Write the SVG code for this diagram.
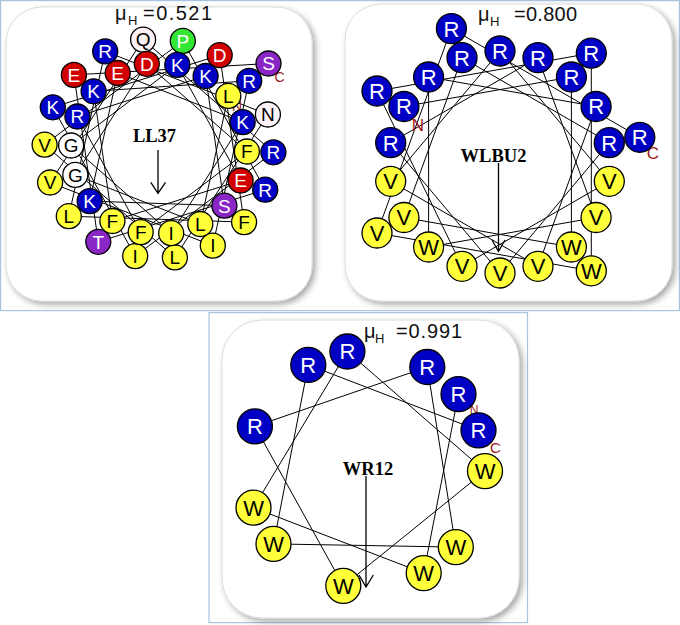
<svg xmlns="http://www.w3.org/2000/svg" width="680" height="625" viewBox="0 0 680 625">
<defs>
<filter id="sh" x="-10%" y="-10%" width="125%" height="125%">
<feGaussianBlur in="SourceAlpha" stdDeviation="3"/>
<feOffset dx="3" dy="3" result="o"/>
<feComponentTransfer><feFuncA type="linear" slope="0.35"/></feComponentTransfer>
<feMerge><feMergeNode/><feMergeNode in="SourceGraphic"/></feMerge>
</filter>
<style>
.frame{fill:none;stroke:#a9c3e3;stroke-width:1.2}
.panel{fill:#fff;stroke:#dcdcdc;stroke-width:1}
.wire{fill:none;stroke:#000;stroke-width:1;stroke-linejoin:miter}
.arrow{fill:none;stroke:#000;stroke-width:1.3}
circle{stroke:#000;stroke-width:1.3}
.y{fill:#ffff3a}
.b{fill:#0000c4}
.r{fill:#d20000}
.p{fill:#8a26c6}
.g{fill:#33e633}
.w{fill:#ffffff}
.k{fill:#fdf2f5}
text{font-family:"Liberation Sans",Arial,Helvetica,sans-serif;text-anchor:middle}
.tk{fill:#000}
.tw{fill:#fff}
.ll text{font-size:19px}
.wl text{font-size:22px}
.wr text{font-size:22px}
.term{fill:#9b1a1a;font-size:14px}
.name{font-family:"Liberation Serif","Times New Roman",serif;font-weight:bold;font-size:18.5px;fill:#000}
.mu{font-size:20px;fill:#111;text-anchor:start}
</style>
</defs>
<rect width="680" height="625" fill="#fff"/>
<rect class="frame" x="0.6" y="0.6" width="678.8" height="310"/>
<rect class="frame" x="209" y="312.6" width="318.5" height="310"/>

<g id="panels">
<rect class="panel" x="6" y="7" width="306" height="294" rx="36" filter="url(#sh)"/>
<rect class="panel" x="345" y="4" width="327" height="297" rx="36" filter="url(#sh)"/>
<rect class="panel" x="222" y="320" width="297" height="298" rx="40" filter="url(#sh)"/>
</g>

<g id="connectors">
<polyline class="wire" points="228.3,95.9 200.3,224.0 75.3,174.9 146.8,63.8 246.9,151.5 140.7,232.1 77.4,116.5 205.6,76.0 224.4,205.7 89.7,201.1 117.7,73.0 242.7,122.1 171.2,233.2 71.1,145.5 177.3,64.9 240.6,180.5 112.4,221.0 93.6,91.3 249.2,80.8 212.8,245.6 50.1,182.5 143.1,39.6 273.4,152.3 135.2,256.1 52.8,107.3 219.7,55.2 244.1,222.1 68.8,216.2 105.2,51.4 267.9,114.5 174.9,257.4 44.6,144.7 182.8,40.9 265.2,189.7 98.3,241.8 73.9,74.9 268.5,63.5"/>
<polyline class="wire" points="403.9,106.5 571.4,77.0 571.4,247.0 403.9,217.5 462.0,57.7 609.3,142.7 500,273 390.7,142.7 538.0,57.7 596.1,217.5 428.6,247.0 428.6,77.0 596.1,106.5 538.0,266.3 390.7,181.3 500,51 609.3,181.3 462.0,266.3 377.0,91.0 591.3,53.2 591.3,270.8 377.0,233.0 451.4,28.6 639.8,137.3"/>
<polyline class="wire" points="458.5,394.1 423.7,573.1 253.5,507.7 347.4,351.5 485.0,471.1 343.3,585.8 254.9,426.4 427.3,367.0 455.8,547.1 273.5,543.9 308.3,364.9 478.5,430.3"/>
<path class="arrow" d="M158,150 V193 M150.8,182.3 L158,193.3 L165.5,182.3"/>
<path class="arrow" d="M498.5,163 V251.5 M492,240 L498.5,251.5 L505,240"/>
<path class="arrow" d="M366,476 V587 M359,575 L366,587 L373.3,575"/>
</g>

<g id="titles">
<text class="mu" x="115" y="20">μ<tspan font-size="13" x="128" dy="5">H</tspan><tspan x="143" dy="-5" textLength="69" lengthAdjust="spacing">=0.521</tspan></text>
<text class="mu" x="478" y="21">μ<tspan font-size="13" x="490" dy="5">H</tspan><tspan x="514" dy="-5" textLength="63" lengthAdjust="spacing">=0.800</tspan></text>
<text class="mu" x="364" y="338">μ<tspan font-size="13" x="375" dy="5">H</tspan><tspan x="396" dy="-5" textLength="66" lengthAdjust="spacing">=0.991</tspan></text>
<text class="name" x="154.5" y="142">LL37</text>
<text class="name" x="493.5" y="162">WLBU2</text>
<text class="name" x="368" y="475">WR12</text>
</g>

<g id="termini">
<text class="term" x="237" y="111">N</text>
<text class="term" x="279.5" y="82">C</text>
<text class="term" x="418" y="131" style="font-size:17px">N</text>
<text class="term" x="653" y="159" style="font-size:17px">C</text>
<text class="term" x="474" y="414" style="font-size:12px">N</text>
<text class="term" x="495.5" y="453" style="font-size:15px">C</text>
</g>

<g id="LL37" class="ll">
<g id="ll37-37" transform="translate(268.5,63.5)"><circle class="p" r="12.5"/><text class="tw" y="6.8">S</text></g>
<g id="ll37-36" transform="translate(73.9,74.9)"><circle class="r" r="12.5"/><text class="tw" y="6.8">E</text></g>
<g id="ll37-35" transform="translate(98.3,241.8)"><circle class="p" r="12.5"/><text class="tw" y="6.8">T</text></g>
<g id="ll37-34" transform="translate(265.2,189.7)"><circle class="b" r="12.5"/><text class="tw" y="6.8">R</text></g>
<g id="ll37-33" transform="translate(182.8,40.9)"><circle class="g" r="12.5"/><text class="tw" y="6.8">P</text></g>
<g id="ll37-32" transform="translate(44.6,144.7)"><circle class="y" r="12.5"/><text class="tk" y="6.8">V</text></g>
<g id="ll37-31" transform="translate(174.9,257.4)"><circle class="y" r="12.5"/><text class="tk" y="6.8">L</text></g>
<g id="ll37-30" transform="translate(267.9,114.5)"><circle class="k" r="12.5"/><text class="tk" y="6.8">N</text></g>
<g id="ll37-29" transform="translate(105.2,51.4)"><circle class="b" r="12.5"/><text class="tw" y="6.8">R</text></g>
<g id="ll37-28" transform="translate(68.8,216.2)"><circle class="y" r="12.5"/><text class="tk" y="6.8">L</text></g>
<g id="ll37-27" transform="translate(244.1,222.1)"><circle class="y" r="12.5"/><text class="tk" y="6.8">F</text></g>
<g id="ll37-26" transform="translate(219.7,55.2)"><circle class="r" r="12.5"/><text class="tw" y="6.8">D</text></g>
<g id="ll37-25" transform="translate(52.8,107.3)"><circle class="b" r="12.5"/><text class="tw" y="6.8">K</text></g>
<g id="ll37-24" transform="translate(135.2,256.1)"><circle class="y" r="12.5"/><text class="tk" y="6.8">I</text></g>
<g id="ll37-23" transform="translate(273.4,152.3)"><circle class="b" r="12.5"/><text class="tw" y="6.8">R</text></g>
<g id="ll37-22" transform="translate(143.1,39.6)"><circle class="k" r="12.5"/><text class="tk" y="6.8">Q</text></g>
<g id="ll37-21" transform="translate(50.1,182.5)"><circle class="y" r="12.5"/><text class="tk" y="6.8">V</text></g>
<g id="ll37-20" transform="translate(212.8,245.6)"><circle class="y" r="12.5"/><text class="tk" y="6.8">I</text></g>
<g id="ll37-19" transform="translate(249.2,80.8)"><circle class="b" r="12.5"/><text class="tw" y="6.8">R</text></g>
<g id="ll37-18" transform="translate(93.6,91.3)"><circle class="b" r="12.5"/><text class="tw" y="6.8">K</text></g>
<g id="ll37-17" transform="translate(112.4,221.0)"><circle class="y" r="12.5"/><text class="tk" y="6.8">F</text></g>
<g id="ll37-16" transform="translate(240.6,180.5)"><circle class="r" r="12.5"/><text class="tw" y="6.8">E</text></g>
<g id="ll37-15" transform="translate(177.3,64.9)"><circle class="b" r="12.5"/><text class="tw" y="6.8">K</text></g>
<g id="ll37-14" transform="translate(71.1,145.5)"><circle class="w" r="12.5"/><text class="tk" y="6.8">G</text></g>
<g id="ll37-13" transform="translate(171.2,233.2)"><circle class="y" r="12.5"/><text class="tk" y="6.8">I</text></g>
<g id="ll37-12" transform="translate(242.7,122.1)"><circle class="b" r="12.5"/><text class="tw" y="6.8">K</text></g>
<g id="ll37-11" transform="translate(117.7,73.0)"><circle class="r" r="12.5"/><text class="tw" y="6.8">E</text></g>
<g id="ll37-10" transform="translate(89.7,201.1)"><circle class="b" r="12.5"/><text class="tw" y="6.8">K</text></g>
<g id="ll37-9" transform="translate(224.4,205.7)"><circle class="p" r="12.5"/><text class="tw" y="6.8">S</text></g>
<g id="ll37-8" transform="translate(205.6,76.0)"><circle class="b" r="12.5"/><text class="tw" y="6.8">K</text></g>
<g id="ll37-7" transform="translate(77.4,116.5)"><circle class="b" r="12.5"/><text class="tw" y="6.8">R</text></g>
<g id="ll37-6" transform="translate(140.7,232.1)"><circle class="y" r="12.5"/><text class="tk" y="6.8">F</text></g>
<g id="ll37-5" transform="translate(246.9,151.5)"><circle class="y" r="12.5"/><text class="tk" y="6.8">F</text></g>
<g id="ll37-4" transform="translate(146.8,63.8)"><circle class="r" r="12.5"/><text class="tw" y="6.8">D</text></g>
<g id="ll37-3" transform="translate(75.3,174.9)"><circle class="w" r="12.5"/><text class="tk" y="6.8">G</text></g>
<g id="ll37-2" transform="translate(200.3,224.0)"><circle class="y" r="12.5"/><text class="tk" y="6.8">L</text></g>
<g id="ll37-1" transform="translate(228.3,95.9)"><circle class="y" r="12.5"/><text class="tk" y="6.8">L</text></g>
</g>

<g id="WLBU2" class="wl">
<g id="wlbu2-24" transform="translate(639.8,137.3)"><circle class="b" r="15"/><text class="tw" y="7.9">R</text></g>
<g id="wlbu2-23" transform="translate(451.4,28.6)"><circle class="b" r="15"/><text class="tw" y="7.9">R</text></g>
<g id="wlbu2-22" transform="translate(377.0,233.0)"><circle class="y" r="15"/><text class="tk" y="7.9">V</text></g>
<g id="wlbu2-21" transform="translate(591.3,270.8)"><circle class="y" r="15"/><text class="tk" y="7.9">W</text></g>
<g id="wlbu2-20" transform="translate(591.3,53.2)"><circle class="b" r="15"/><text class="tw" y="7.9">R</text></g>
<g id="wlbu2-19" transform="translate(377.0,91.0)"><circle class="b" r="15"/><text class="tw" y="7.9">R</text></g>
<g id="wlbu2-18" transform="translate(462.0,266.3)"><circle class="y" r="15"/><text class="tk" y="7.9">V</text></g>
<g id="wlbu2-17" transform="translate(609.3,181.3)"><circle class="y" r="15"/><text class="tk" y="7.9">V</text></g>
<g id="wlbu2-16" transform="translate(500,51)"><circle class="b" r="15"/><text class="tw" y="7.9">R</text></g>
<g id="wlbu2-15" transform="translate(390.7,181.3)"><circle class="y" r="15"/><text class="tk" y="7.9">V</text></g>
<g id="wlbu2-14" transform="translate(538.0,266.3)"><circle class="y" r="15"/><text class="tk" y="7.9">V</text></g>
<g id="wlbu2-13" transform="translate(596.1,106.5)"><circle class="b" r="15"/><text class="tw" y="7.9">R</text></g>
<g id="wlbu2-12" transform="translate(428.6,77.0)"><circle class="b" r="15"/><text class="tw" y="7.9">R</text></g>
<g id="wlbu2-11" transform="translate(428.6,247.0)"><circle class="y" r="15"/><text class="tk" y="7.9">W</text></g>
<g id="wlbu2-10" transform="translate(596.1,217.5)"><circle class="y" r="15"/><text class="tk" y="7.9">V</text></g>
<g id="wlbu2-9" transform="translate(538.0,57.7)"><circle class="b" r="15"/><text class="tw" y="7.9">R</text></g>
<g id="wlbu2-8" transform="translate(390.7,142.7)"><circle class="b" r="15"/><text class="tw" y="7.9">R</text></g>
<g id="wlbu2-7" transform="translate(500,273)"><circle class="y" r="15"/><text class="tk" y="7.9">V</text></g>
<g id="wlbu2-6" transform="translate(609.3,142.7)"><circle class="b" r="15"/><text class="tw" y="7.9">R</text></g>
<g id="wlbu2-5" transform="translate(462.0,57.7)"><circle class="b" r="15"/><text class="tw" y="7.9">R</text></g>
<g id="wlbu2-4" transform="translate(403.9,217.5)"><circle class="y" r="15"/><text class="tk" y="7.9">V</text></g>
<g id="wlbu2-3" transform="translate(571.4,247.0)"><circle class="y" r="15"/><text class="tk" y="7.9">W</text></g>
<g id="wlbu2-2" transform="translate(571.4,77.0)"><circle class="b" r="15"/><text class="tw" y="7.9">R</text></g>
<g id="wlbu2-1" transform="translate(403.9,106.5)"><circle class="b" r="15"/><text class="tw" y="7.9">R</text></g>
</g>

<g id="WR12" class="wr">
<g id="wr12-12" transform="translate(478.5,430.3)"><circle class="b" r="17.5"/><text class="tw" y="7.9">R</text></g>
<g id="wr12-11" transform="translate(308.3,364.9)"><circle class="b" r="17.5"/><text class="tw" y="7.9">R</text></g>
<g id="wr12-10" transform="translate(273.5,543.9)"><circle class="y" r="17.5"/><text class="tk" y="7.9">W</text></g>
<g id="wr12-9" transform="translate(455.8,547.1)"><circle class="y" r="17.5"/><text class="tk" y="7.9">W</text></g>
<g id="wr12-8" transform="translate(427.3,367.0)"><circle class="b" r="17.5"/><text class="tw" y="7.9">R</text></g>
<g id="wr12-7" transform="translate(254.9,426.4)"><circle class="b" r="17.5"/><text class="tw" y="7.9">R</text></g>
<g id="wr12-6" transform="translate(343.3,585.8)"><circle class="y" r="17.5"/><text class="tk" y="7.9">W</text></g>
<g id="wr12-5" transform="translate(485.0,471.1)"><circle class="y" r="17.5"/><text class="tk" y="7.9">W</text></g>
<g id="wr12-4" transform="translate(347.4,351.5)"><circle class="b" r="17.5"/><text class="tw" y="7.9">R</text></g>
<g id="wr12-3" transform="translate(253.5,507.7)"><circle class="y" r="17.5"/><text class="tk" y="7.9">W</text></g>
<g id="wr12-2" transform="translate(423.7,573.1)"><circle class="y" r="17.5"/><text class="tk" y="7.9">W</text></g>
<g id="wr12-1" transform="translate(458.5,394.1)"><circle class="b" r="17.5"/><text class="tw" y="7.9">R</text></g>
</g>
</svg>
